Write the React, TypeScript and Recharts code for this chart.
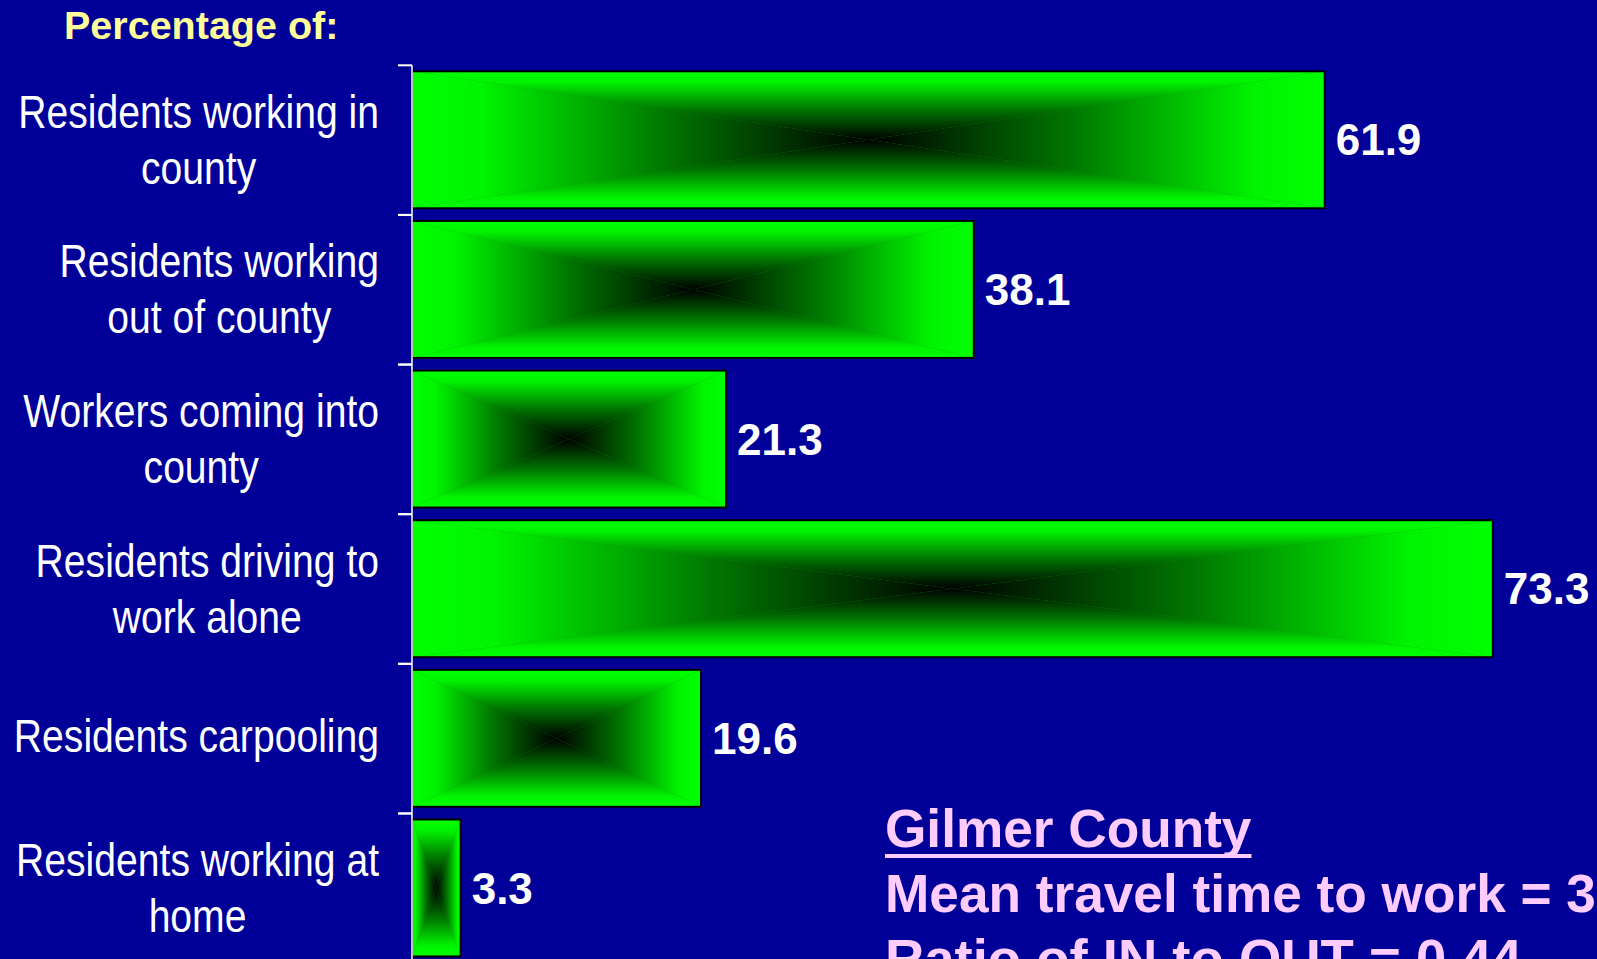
import { BarChart, Bar, XAxis, YAxis, LabelList } from 'recharts';

// Commuting shares, Gilmer County
const categories = [
  'Residents working in\ncounty',
  'Residents working\nout of county',
  'Workers coming into\ncounty',
  'Residents driving to\nwork alone',
  'Residents carpooling',
  'Residents working at\nhome',
];
const percents = [61.9, 38.1, 21.3, 73.3, 19.6, 3.3];
const notes = ['Gilmer County', 'Mean travel time to work = 3', 'Ratio of IN to OUT =  0.44'];

const data = categories.map((name, i) => ({ name, value: percents[i] }));

const BG = '#000099';
const SANS = '"Liberation Sans", Arial, sans-serif';
// no Arial Narrow here, so squeeze Liberation Sans with textLength
const NARROW_RATIO = 0.85;
const TICK_MARGIN = 33;
const TICK_LEN = 14;

let ctx: CanvasRenderingContext2D | null = null;
const textWidth = (t: string, font: string) => {
  if (!ctx) ctx = document.createElement('canvas').getContext('2d');
  if (!ctx) return t.length * 20;
  ctx.font = font;
  return ctx.measureText(t).width;
};

const gradStops = [
  <stop key="a" offset="0" stopColor="#00ff00" />,
  <stop key="b" offset="0.15" stopColor="#00f500" />,
  <stop key="c" offset="0.55" stopColor="#007800" />,
  <stop key="d" offset="1" stopColor="#000000" />,
];

// PowerPoint-style "from center" rectangular gradient: four triangles
const GradientBar = (props: any) => {
  const { x, y, width, height, index } = props;
  if (!width || width <= 0) return null;
  const cx = x + width / 2;
  const cy = y + height / 2;
  const id = `gb${index}`;
  return (
    <g>
      <defs>
        <linearGradient id={`${id}t`} x1="0" y1="0" x2="0" y2="1">{gradStops}</linearGradient>
        <linearGradient id={`${id}b`} x1="0" y1="1" x2="0" y2="0">{gradStops}</linearGradient>
        <linearGradient id={`${id}l`} x1="0" y1="0" x2="1" y2="0">{gradStops}</linearGradient>
        <linearGradient id={`${id}r`} x1="1" y1="0" x2="0" y2="0">{gradStops}</linearGradient>
      </defs>
      <rect x={x} y={y} width={width} height={height} fill="#00a000" />
      <polygon points={`${x},${y} ${x + width},${y} ${cx},${cy}`} fill={`url(#${id}t)`} />
      <polygon points={`${x},${y + height} ${x + width},${y + height} ${cx},${cy}`} fill={`url(#${id}b)`} />
      <polygon points={`${x},${y} ${x},${y + height} ${cx},${cy}`} fill={`url(#${id}l)`} />
      <polygon points={`${x + width},${y} ${x + width},${y + height} ${cx},${cy}`} fill={`url(#${id}r)`} />
      <rect x={x} y={y} width={width} height={height} fill="none" stroke="#000" strokeWidth={2} />
    </g>
  );
};

const LABEL_SIZE = 46;

// label block right-aligned, lines centred on each other; tick marks at the band edges
const CategoryTick = (props: any) => {
  const { x, y, payload } = props;
  const lines = String(payload.value).split('\n');
  const font = `${LABEL_SIZE}px ${SANS}`;
  const widths = lines.map((l) => textWidth(l, font) * NARROW_RATIO);
  const maxW = Math.max(...widths);
  const mid = x - maxW / 2;
  const first = lines.length === 1 ? y + 13 : y - 12.5;
  const axisX = x + TICK_MARGIN;
  const half = typeof payload.offset === 'number' && payload.offset > 0 ? payload.offset : 0;
  return (
    <g>
      {half > 0 && (
        <>
          <line x1={axisX - TICK_LEN} x2={axisX} y1={y - half} y2={y - half} stroke="#fff" strokeWidth={2} />
          <line x1={axisX - TICK_LEN} x2={axisX} y1={y + half} y2={y + half} stroke="#fff" strokeWidth={2} />
        </>
      )}
      <g fill="#fff" fontSize={LABEL_SIZE} fontFamily={SANS}>
        {lines.map((l, i) => (
          <text
            key={i}
            x={mid}
            y={first + i * 56}
            textAnchor="middle"
            textLength={widths[i]}
            lengthAdjust="spacingAndGlyphs"
          >
            {l}
          </text>
        ))}
      </g>
    </g>
  );
};

const App = () => {
  const noteFont = `bold 54px ${SANS}`;
  const noteW = notes.map((n) => textWidth(n, noteFont) * 0.985);
  return (
    <div
      style={{
        position: 'fixed',
        left: 0,
        top: 0,
        width: 1597,
        height: 959,
        overflow: 'hidden',
        background: BG,
      }}
    >
      <BarChart
        width={1597}
        height={1000}
        data={data}
        layout="vertical"
        margin={{ top: 65.3, right: 5.4, bottom: 36.9, left: 0 }}
      >
        <XAxis type="number" domain={[0, 80]} hide />
        <YAxis
          type="category"
          dataKey="name"
          width={412}
          axisLine={{ stroke: '#fff', strokeWidth: 1.5 }}
          tickLine={false}
          tickSize={0}
          tickMargin={TICK_MARGIN}
          interval={0}
          tick={<CategoryTick />}
        />
        <Bar dataKey="value" barSize={137} shape={<GradientBar />} isAnimationActive={false}>
          <LabelList
            dataKey="value"
            position="right"
            offset={11}
            fill="#fff"
            fontSize={44}
            fontWeight="bold"
            fontFamily={SANS}
          />
        </Bar>
      </BarChart>
      <svg
        width={1597}
        height={959}
        style={{ position: 'absolute', left: 0, top: 0, pointerEvents: 'none' }}
      >
        <text x={64} y={39} fill="#ffff99" fontSize={39.5} fontWeight="bold" fontFamily={SANS}>
          Percentage of:
        </text>
        <g fill="#ffccff" fontSize={54} fontWeight="bold" fontFamily={SANS} style={{ whiteSpace: 'pre' }}>
          {notes.map((n, i) => (
            <text key={i} x={885} y={847 + i * 65} textLength={noteW[i]} lengthAdjust="spacingAndGlyphs">
              {n}
            </text>
          ))}
          <rect x={885} y={854} width={noteW[0]} height={4} />
        </g>
      </svg>
    </div>
  );
};

export default App;
